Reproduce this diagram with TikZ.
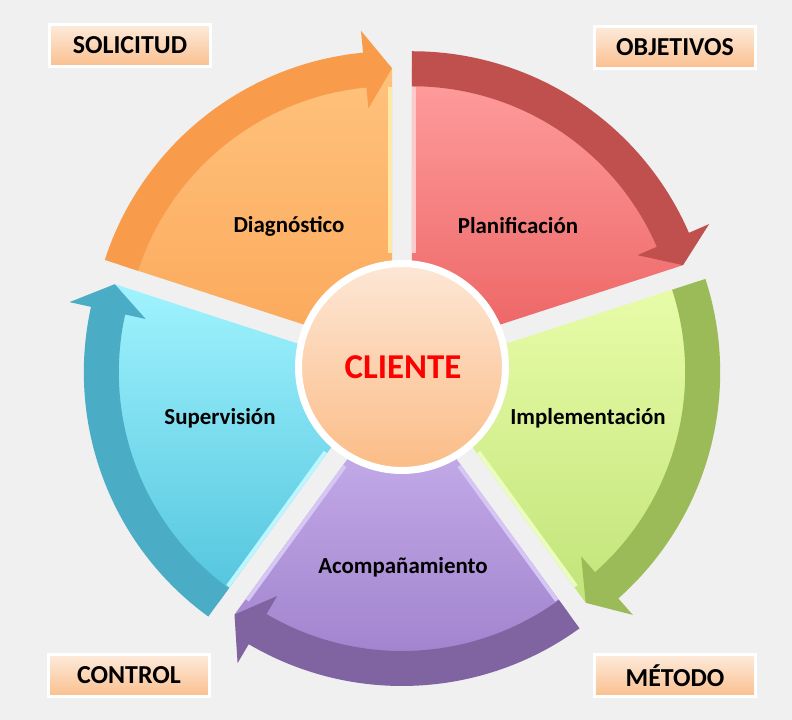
\documentclass[tikz,border=0pt]{standalone}
\usepackage{fontspec}
\setmainfont{Carlito}
\usetikzlibrary{calc}
\definecolor{bg}{HTML}{F0F0F0}
\definecolor{oBand}{HTML}{F89B4A}\definecolor{oTop}{HTML}{FFC27C}\definecolor{oBot}{HTML}{FBA85A}\definecolor{oStrip}{HTML}{FFE9A8}
\definecolor{rBand}{HTML}{C0504D}\definecolor{rTop}{HTML}{FF9E9E}\definecolor{rBot}{HTML}{EC6262}\definecolor{rStrip}{HTML}{FFCACA}
\definecolor{gBand}{HTML}{9BBB59}\definecolor{gTop}{HTML}{E8FCA8}\definecolor{gBot}{HTML}{C2E47A}\definecolor{gStrip}{HTML}{EAFDBE}
\definecolor{pBand}{HTML}{8064A2}\definecolor{pTop}{HTML}{CDB6F0}\definecolor{pBot}{HTML}{9C7ECA}\definecolor{pStrip}{HTML}{D6C6F4}
\definecolor{cBand}{HTML}{4BACC6}\definecolor{cTop}{HTML}{A0F3FE}\definecolor{cBot}{HTML}{52C4DD}\definecolor{cStrip}{HTML}{BDF6FE}
\definecolor{lblTop}{HTML}{FDEBDC}\definecolor{lblBot}{HTML}{FABF8E}
\definecolor{ctrTop}{HTML}{FDE7D6}\definecolor{ctrBot}{HTML}{FBBC86}
\newcommand\segpiece[5]{%
  \pgfmathsetmacro\sa{#1}%
  \pgfmathsetmacro\ea{#1-72}%
  \pgfmathsetmacro\ba{#1-36}%
  \coordinate (#5) at ($(C)+(\ba:17bp)$);
  \shade[top color=#2,bottom color=#3] (#5) -- ($(#5)+(\sa:284bp)$) arc[start angle=\sa, end angle=\ea, radius=284bp] -- cycle;
}
\newcommand\segband[3]{%
  \pgfmathsetmacro\sa{#1}%
  \pgfmathsetmacro\ea{#1-72}%
  \pgfmathsetmacro\hb{#1-72+5.5}%
  \fill[#2] ($(#3)+(\sa:302bp)$) arc[start angle=\sa, end angle=\hb, radius=302bp] -- ($(#3)+(\hb:324bp)$) -- ($(#3)+(\ea:285bp)$) -- ($(#3)+(\hb:246bp)$) -- ($(#3)+(\hb:267bp)$) arc[start angle=\hb, end angle=\sa, radius=267bp] -- cycle;
}
\newcommand\segstrip[4]{% apex, edge angle, inward angle, colour
  \draw[line width=4bp,#4] ($(#1)+(#2:100bp)+(#3:2bp)$) -- ($(#1)+(#2:266bp)+(#3:2bp)$);
}
\tikzset{
  lbl/.style={draw=white, line width=3bp, top color=lblTop, bottom color=lblBot, minimum width=161bp, minimum height=42bp, inner sep=0pt, font=\bfseries\fontsize{26}{30}\selectfont},
  segtext/.style={font=\bfseries\fontsize{23}{27}\selectfont, text=black, inner sep=0pt},
}
\begin{document}
\begin{tikzpicture}[x=1bp,y=1bp]
\useasboundingbox (0,0) rectangle (792,720);
\fill[bg] (0,0) rectangle (792,720);
\coordinate (C) at (402,353);
% fills
\segpiece{162}{oTop}{oBot}{oBand}{Ao}
\segpiece{90}{rTop}{rBot}{rBand}{Ar}
\segpiece{18}{gTop}{gBot}{gBand}{Ag}
\segpiece{-54}{pTop}{pBot}{pBand}{Ap}
\segpiece{-126}{cTop}{cBot}{cBand}{Ac}
% highlight strips
\segstrip{Ao}{90}{180}{oStrip}
\segstrip{Ar}{90}{0}{rStrip}
\segstrip{Ag}{-54}{36}{gStrip}
\segstrip{Ap}{-54}{-144}{pStrip}
\segstrip{Ap}{-126}{-36}{pStrip}
\segstrip{Ac}{-126}{144}{cStrip}
% arrow bands
\segband{162}{oBand}{Ao}
\segband{90}{rBand}{Ar}
\segband{18}{gBand}{Ag}
\segband{-54}{pBand}{Ap}
\segband{-126}{cBand}{Ac}
% centre
\node[circle, draw=white, line width=7bp, top color=ctrTop, bottom color=ctrBot, minimum size=207bp, inner sep=0pt] (cli) at (C) {};
\node[font=\bfseries\fontsize{35}{40}\selectfont, text={rgb,255:red,255;green,0;blue,0}] (clit) at (403,353) {CLIENTE};
% segment texts
\node[segtext] (t1) at (289,494) {Diagnóstico};
\node[segtext] (t2) at (518,494) {Planificación};
\node[segtext] (t3) at (588,302) {Implementación};
\node[segtext] (t4) at (403,153) {Acompañamiento};
\node[segtext] (t5) at (220,302) {Supervisión};
% labels
\node[lbl] (l1) at (130,674.5) {SOLICITUD};
\node[lbl] (l2) at (675,672.5) {OBJETIVOS};
\node[lbl] (l3) at (129,44.5) {CONTROL};
\node[lbl] (l4) at (675,44.5) {MÉTODO};
\end{tikzpicture}
\end{document}
